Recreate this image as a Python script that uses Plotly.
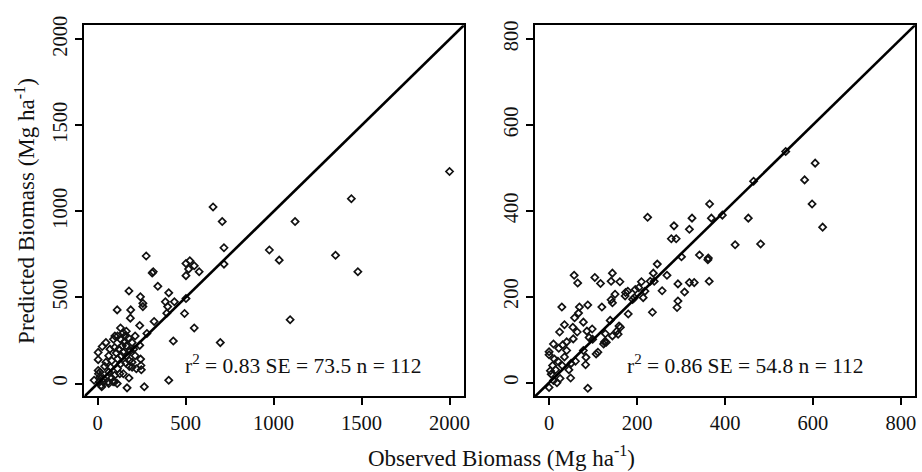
import plotly.graph_objects as go

# left panel: observed vs predicted (Mg/ha), model 1
OBS_A = [2000, 1442, 1479, 1352, 1122, 976, 1032, 1094, 656, 708, 718, 718, 697, 549,
         276, 310, 316, 342, 178, 243, 257, 257, 404, 385, 436, 398, 502, 494, 393,
         111, 188, 186, 321, 239, 280, 430, 404, 265, 167, 178, 244, 248, 220, 239,
         502, 524, 549, 517, 577, 502,
         3, 3, 26, 3, 5, 23, 88, 111, 60, 32, 126, 98,
         13, 30, 97, 80, 113, 90, 130, 97, 63, 80, 113, 146, 163, 156, 146, 130, 163,
         213, 196, 213, 246, 196, 113, 73, 47, 13, 63, 130, 163, 186, 140, 106, 180,
         97, 146, -20, 20, 63, 196, 47,
         120, 150, 175, 70, 40, 10, 135, 180, 205, 160]
PRED_A = [1232, 1074, 650, 745, 941, 776, 717, 371, 1026, 941, 789, 694, 238, 323,
          741, 642, 650, 565, 538, 504, 466, 447, 527, 475, 475, 447, 494, 407, 409,
          428, 428, 380, 361, 337, 291, 247, 19, -19, -25, 32, 142, 80, 86, 222,
          698, 713, 684, 665, 650, 627,
          181, 139, 215, 76, 57, -19, 10, 0, 10, 29, 57, 276,
          38, 10, 10, 32, 276, 257, 257, 209, 162, 133, 143, 181, 219, 276, 295, 323, 304,
          276, 238, 162, 105, 95, 86, 95, 124, 67, 67, 114, 162, 190, 219, 177, 133,
          48, 57, 19, -10, 0, 124, 238,
          200, 240, 265, 200, 100, 10, 160, 100, 200, 120]

# right panel: model 2
OBS_B = [538, 605, 581, 598, 622, 465, 453, 423, 481,
         365, 369, 394, 325, 284, 319, 224,
         278, 289, 301, 342, 362, 361, 364, 246, 237, 230, 239, 293, 319, 330, 257,
         204, 214, 308, 293, 291, 235,
         196, 174, 190, 161, 144, 141, 117, 150, 141, 159, 154, 157, 120, 104, 107,
         88, 57, 65, 69, 67, 58, 29, 78, 86, 91, 99, 78, 88, 84, 124, 144, 130,
         24, 54, 64, 31, 40, 55, 98, 126, 111, 83, 49, 0, 0, 0,
         144, 173, 179, 194, 218, 139, 162, 128,
         5, 10, 15, 20, 8, 25, 30, 35, 45, 12, 18, 3, 40, 50, 60, 22,
         268, 10, 35, 180, 210]
PRED_B = [538, 511, 472, 416, 362, 469, 383, 321, 323,
          416, 383, 390, 383, 365, 357, 385,
          335, 335, 293, 297, 290, 286, 236, 276, 255, 236, 236, 230, 233, 233, 214,
          221, 198, 211, 190, 175, 164,
          217, 210, 194, 235, 255, 236, 231, 206, 193, 132, 120, 113, 176, 245, 67,
          181, 250, 232, 176, 162, 151, 176, 141, 120, 105, 101, 75, -13, 59, 90, 109, 94,
          118, 129, 118, 88, 95, 102, 125, 95, 71, 42, 11, 72, 65, -11,
          186, 202, 213, 198, 213, 145, 129, 114,
          20, 5, 30, 50, 40, 10, 40, 60, 30, 55, 0, 28, 75, 45, 50, 80,
          250, 90, 135, 160, 235]

RANGE_A = [-75, 2082]
RANGE_B = [-32, 832]
TICKS_A = [0, 500, 1000, 1500, 2000]
TICKS_B = [0, 200, 400, 600, 800]
STATS = ["r<sup>2</sup> = 0.83 SE = 73.5 n = 112",
         "r<sup>2</sup> = 0.86 SE = 54.8 n = 112"]

FONT = "Liberation Serif"
INK = "#111"

fig = go.Figure()

panels = [
    (OBS_A, PRED_A, RANGE_A, TICKS_A, "x", "y"),
    (OBS_B, PRED_B, RANGE_B, TICKS_B, "x2", "y2"),
]
for obs, pred, rng, ticks, xa, ya in panels:
    fig.add_trace(go.Scatter(
        x=obs, y=pred, mode="markers", xaxis=xa, yaxis=ya,
        marker=dict(symbol="diamond-open", size=5.5, color=INK,
                    line=dict(width=1.7, color=INK)),
        showlegend=False, cliponaxis=False,
    ))
    # 1:1 line across the full axis range
    fig.add_trace(go.Scatter(
        x=rng, y=rng, mode="lines", xaxis=xa, yaxis=ya,
        line=dict(color="black", width=2.6), showlegend=False,
    ))

axis_common = dict(
    showline=True, mirror=True, linecolor="black", linewidth=2,
    ticks="outside", ticklen=7, tickwidth=1.5, tickcolor="black",
    showgrid=False, zeroline=False,
    tickfont=dict(family=FONT, size=20.5, color=INK),
)

Y_DOM = [1 - 395 / 472, 1 - 16.5 / 472]
fig.update_layout(
    width=922, height=472,
    margin=dict(l=0, r=0, t=0, b=0),
    paper_bgcolor="white", plot_bgcolor="white",
    font=dict(family=FONT, color=INK),
    xaxis=dict(domain=[85 / 922, 467 / 922], range=RANGE_A, tickvals=TICKS_A,
               anchor="y", **axis_common),
    yaxis=dict(domain=Y_DOM, range=RANGE_A, tickvals=TICKS_A, tickangle=-90,
               anchor="x", **axis_common),
    xaxis2=dict(domain=[538.5 / 922, 921 / 922], range=RANGE_B, tickvals=TICKS_B,
                anchor="y2", **axis_common),
    yaxis2=dict(domain=Y_DOM, range=RANGE_B, tickvals=TICKS_B, tickangle=-90,
                anchor="x2", **axis_common),
    annotations=[
        dict(text=STATS[0], x=305 / 922, y=1 - 362 / 472, xref="paper", yref="paper",
             xanchor="center", yanchor="middle", showarrow=False,
             font=dict(family=FONT, size=21.5, color=INK)),
        dict(text=STATS[1], x=750 / 922, y=1 - 362 / 472, xref="paper", yref="paper",
             xanchor="center", yanchor="middle", showarrow=False,
             font=dict(family=FONT, size=21.5, color=INK)),
        dict(text="Observed Biomass (Mg ha<sup>-1</sup>)", x=505 / 922, y=1 - 456 / 472,
             xref="paper", yref="paper", xanchor="center", yanchor="middle",
             showarrow=False, font=dict(family=FONT, size=23, color=INK)),
        dict(text="Predicted Biomass (Mg ha<sup>-1</sup>)", x=25 / 922, y=1 - 206 / 472,
             xref="paper", yref="paper", xanchor="center", yanchor="middle",
             showarrow=False, textangle=-90,
             font=dict(family=FONT, size=23, color=INK)),
    ],
)

# drop the browser's default body margin so the figure sits at the page corner
fig.write_html("out.html", config={"displayModeBar": False},
               post_script="document.body.style.margin='0';")
